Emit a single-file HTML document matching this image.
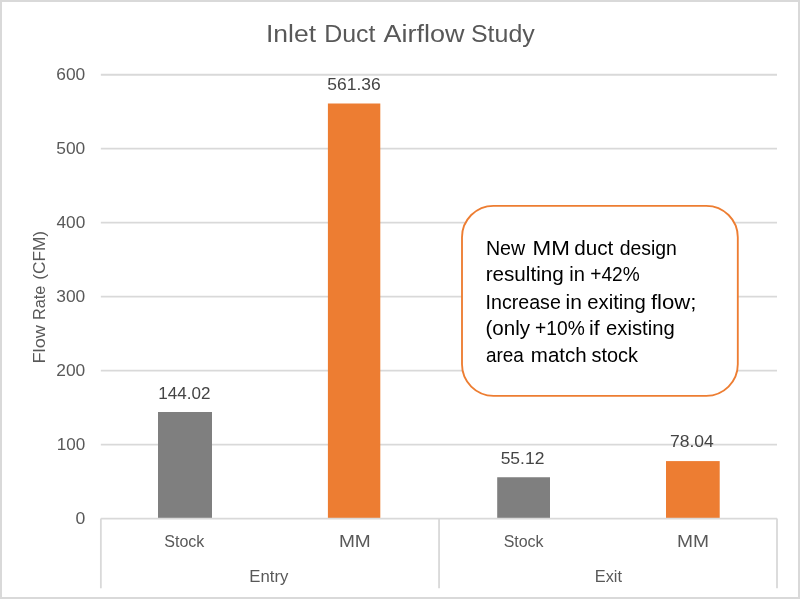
<!DOCTYPE html>
<html><head><meta charset="utf-8"><title>Inlet Duct Airflow Study</title>
<style>
html,body{margin:0;padding:0;background:#fff;}
body{width:800px;height:599px;overflow:hidden;}
svg{display:block;font-family:"Liberation Sans",sans-serif;}
</style></head><body>
<svg width="800" height="599" viewBox="0 0 800 599">
<defs><filter id="soft" x="0" y="0" width="800" height="599" filterUnits="userSpaceOnUse"><feGaussianBlur stdDeviation="0.35"/></filter></defs>
<rect x="0" y="0" width="800" height="599" fill="#fff"/>
<rect x="1" y="1" width="798" height="597" fill="none" stroke="#d9d9d9" stroke-width="2"/>
<g filter="url(#soft)">
<line x1="100.85" y1="444.58" x2="777.0" y2="444.58" stroke="#d9d9d9" stroke-width="1.8"/>
<line x1="100.85" y1="370.61" x2="777.0" y2="370.61" stroke="#d9d9d9" stroke-width="1.8"/>
<line x1="100.85" y1="296.64" x2="777.0" y2="296.64" stroke="#d9d9d9" stroke-width="1.8"/>
<line x1="100.85" y1="222.67" x2="777.0" y2="222.67" stroke="#d9d9d9" stroke-width="1.8"/>
<line x1="100.85" y1="148.70" x2="777.0" y2="148.70" stroke="#d9d9d9" stroke-width="1.8"/>
<line x1="100.85" y1="74.73" x2="777.0" y2="74.73" stroke="#d9d9d9" stroke-width="1.8"/>
<rect x="158" y="412" width="54.00" height="106.50" fill="#7f7f7f"/>
<rect x="327.9" y="103.5" width="52.40" height="415.00" fill="#ed7d31"/>
<rect x="497.2" y="477.25" width="52.80" height="41.25" fill="#7f7f7f"/>
<rect x="666" y="461.1" width="53.70" height="57.40" fill="#ed7d31"/>
<line x1="100.85" y1="518.55" x2="777.0" y2="518.55" stroke="#d9d9d9" stroke-width="1.8"/>
<line x1="100.85" y1="518.55" x2="100.85" y2="588.3" stroke="#d9d9d9" stroke-width="1.8"/>
<line x1="439.05" y1="518.55" x2="439.05" y2="588.3" stroke="#d9d9d9" stroke-width="1.8"/>
<line x1="777.00" y1="518.55" x2="777.00" y2="588.3" stroke="#d9d9d9" stroke-width="1.8"/>
<rect x="462" y="205.8" width="275.8" height="190" rx="31.5" ry="31.5" fill="#fff" stroke="#ed7d31" stroke-width="1.85"/>
<text y="41.90" font-size="23.0" fill="#595959"><tspan x="266.00" textLength="50.05" lengthAdjust="spacingAndGlyphs">Inlet</tspan> <tspan x="324.20" textLength="51.25" lengthAdjust="spacingAndGlyphs">Duct</tspan> <tspan x="383.40" textLength="81.00" lengthAdjust="spacingAndGlyphs">Airflow</tspan> <tspan x="470.95" textLength="63.80" lengthAdjust="spacingAndGlyphs">Study</tspan></text>
<text y="399.00" font-size="16.3" fill="#444444"><tspan x="158.25" textLength="52.20" lengthAdjust="spacingAndGlyphs">144.02</tspan></text>
<text y="89.90" font-size="16.3" fill="#444444"><tspan x="327.35" textLength="53.40" lengthAdjust="spacingAndGlyphs">561.36</tspan></text>
<text y="463.90" font-size="16.3" fill="#444444"><tspan x="500.65" textLength="43.75" lengthAdjust="spacingAndGlyphs">55.12</tspan></text>
<text y="446.60" font-size="16.3" fill="#444444"><tspan x="670.00" textLength="43.80" lengthAdjust="spacingAndGlyphs">78.04</tspan></text>
<text y="547.00" font-size="16.0" fill="#595959"><tspan x="164.25" textLength="40.15" lengthAdjust="spacingAndGlyphs">Stock</tspan></text>
<text y="547.00" font-size="16.0" fill="#595959"><tspan x="338.90" textLength="31.80" lengthAdjust="spacingAndGlyphs">MM</tspan></text>
<text y="547.00" font-size="16.0" fill="#595959"><tspan x="503.65" textLength="39.95" lengthAdjust="spacingAndGlyphs">Stock</tspan></text>
<text y="547.00" font-size="16.0" fill="#595959"><tspan x="676.90" textLength="32.00" lengthAdjust="spacingAndGlyphs">MM</tspan></text>
<text y="581.60" font-size="16.0" fill="#595959"><tspan x="249.35" textLength="39.05" lengthAdjust="spacingAndGlyphs">Entry</tspan></text>
<text y="581.60" font-size="16.0" fill="#595959"><tspan x="594.75" textLength="27.25" lengthAdjust="spacingAndGlyphs">Exit</tspan></text>
<text y="523.90" font-size="17" fill="#595959"><tspan x="75.45" textLength="9.80" lengthAdjust="spacingAndGlyphs">0</tspan></text>
<text y="449.93" font-size="17" fill="#595959"><tspan x="56.75" textLength="28.50" lengthAdjust="spacingAndGlyphs">100</tspan></text>
<text y="375.96" font-size="17" fill="#595959"><tspan x="56.25" textLength="29.00" lengthAdjust="spacingAndGlyphs">200</tspan></text>
<text y="301.99" font-size="17" fill="#595959"><tspan x="56.25" textLength="29.00" lengthAdjust="spacingAndGlyphs">300</tspan></text>
<text y="228.02" font-size="17" fill="#595959"><tspan x="56.50" textLength="28.75" lengthAdjust="spacingAndGlyphs">400</tspan></text>
<text y="154.05" font-size="17" fill="#595959"><tspan x="56.25" textLength="29.00" lengthAdjust="spacingAndGlyphs">500</tspan></text>
<text y="80.08" font-size="17" fill="#595959"><tspan x="56.25" textLength="29.00" lengthAdjust="spacingAndGlyphs">600</tspan></text>
<text y="254.50" font-size="19.7" fill="#000"><tspan x="485.90" textLength="39.30" lengthAdjust="spacingAndGlyphs">New</tspan> <tspan x="532.55" textLength="37.30" lengthAdjust="spacingAndGlyphs">MM</tspan> <tspan x="574.25" textLength="39.10" lengthAdjust="spacingAndGlyphs">duct</tspan> <tspan x="619.65" textLength="57.20" lengthAdjust="spacingAndGlyphs">design</tspan></text>
<text y="281.40" font-size="19.7" fill="#000"><tspan x="485.65" textLength="78.10" lengthAdjust="spacingAndGlyphs">resulting</tspan> <tspan x="569.35" textLength="15.65" lengthAdjust="spacingAndGlyphs">in</tspan> <tspan x="590.25" textLength="49.40" lengthAdjust="spacingAndGlyphs">+42%</tspan></text>
<text y="309.00" font-size="19.7" fill="#000"><tspan x="485.55" textLength="75.25" lengthAdjust="spacingAndGlyphs">Increase</tspan> <tspan x="565.50" textLength="16.35" lengthAdjust="spacingAndGlyphs">in</tspan> <tspan x="587.25" textLength="58.60" lengthAdjust="spacingAndGlyphs">exiting</tspan> <tspan x="650.95" textLength="45.55" lengthAdjust="spacingAndGlyphs">flow;</tspan></text>
<text y="334.80" font-size="19.7" fill="#000"><tspan x="485.45" textLength="44.65" lengthAdjust="spacingAndGlyphs">(only</tspan> <tspan x="535.10" textLength="49.65" lengthAdjust="spacingAndGlyphs">+10%</tspan> <tspan x="588.90" textLength="10.70" lengthAdjust="spacingAndGlyphs">if</tspan> <tspan x="606.05" textLength="68.60" lengthAdjust="spacingAndGlyphs">existing</tspan></text>
<text y="362.00" font-size="19.7" fill="#000"><tspan x="485.95" textLength="37.85" lengthAdjust="spacingAndGlyphs">area</tspan> <tspan x="530.85" textLength="55.80" lengthAdjust="spacingAndGlyphs">match</tspan> <tspan x="591.50" textLength="46.50" lengthAdjust="spacingAndGlyphs">stock</tspan></text>
<text transform="translate(45.0,362.0) rotate(-90)" y="0" font-size="17.4" fill="#595959"><tspan x="-1.50" textLength="38.45" lengthAdjust="spacingAndGlyphs">Flow</tspan> <tspan x="41.95" textLength="34.45" lengthAdjust="spacingAndGlyphs">Rate</tspan> <tspan x="82.20" textLength="48.90" lengthAdjust="spacingAndGlyphs">(CFM)</tspan></text>
</g>
</svg>
</body></html>
